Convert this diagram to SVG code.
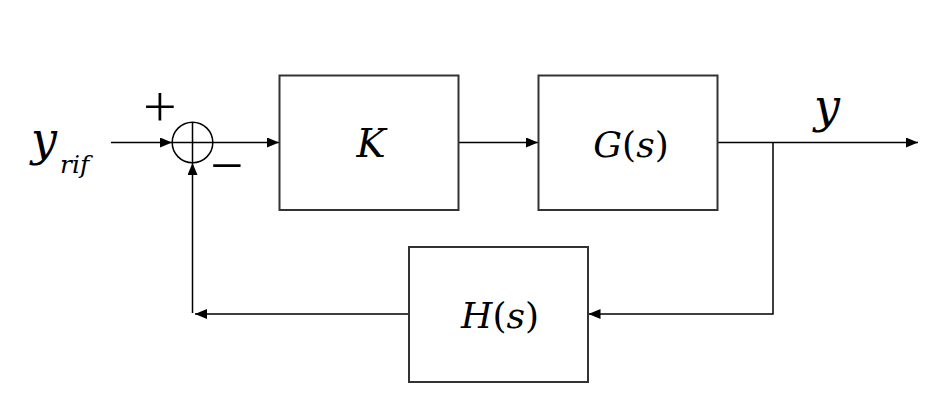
<svg xmlns="http://www.w3.org/2000/svg" width="951" height="420" viewBox="0 0 951 420">
<style>
.box{fill:#fff;stroke:#333;stroke-width:2}
.ln{fill:none;stroke:#000;stroke-width:1.5}
text{font-family:'DejaVu Serif','Liberation Serif',serif;fill:#000}
.i{font-style:italic}
.op{font-family:Inter,Lato,'Open Sans',sans-serif;font-weight:200}
</style>
<defs>
<marker id="ah" markerUnits="userSpaceOnUse" markerWidth="14" markerHeight="12" refX="12" refY="5" orient="auto">
<path d="M0,0 L12,5 L0,10 Z" fill="#000"/>
</marker>
</defs>
<rect width="951" height="420" fill="#fff"/>
<g id="connectors">
<path class="ln" d="M111,142.5 H172" marker-end="url(#ah)"/>
<path class="ln" d="M212.5,142.5 H279" marker-end="url(#ah)"/>
<path class="ln" d="M458,142.5 H538" marker-end="url(#ah)"/>
<path class="ln" d="M717,142.5 H918" marker-end="url(#ah)"/>
<path class="ln" d="M773,142.5 V314 H588.5" marker-end="url(#ah)"/>
<path class="ln" d="M409,314 H195" marker-end="url(#ah)"/>
<path class="ln" d="M192.5,313 V163" marker-end="url(#ah)"/>
</g>
<g id="sum">
<circle cx="192.5" cy="142.5" r="20.3" fill="#fff" stroke="#000" stroke-width="1.5"/>
<path class="ln" d="M172.2,142.5 H212.8 M192.5,122.2 V162.8"/>
<text class="op" x="160" y="125" font-size="64" text-anchor="middle">+</text>
<text class="op" x="227" y="184" font-size="64" text-anchor="middle">−</text>
</g>
<g id="input">
<text class="i" x="31" y="155" font-size="46">y<tspan x="60" y="173" font-size="25">rif</tspan></text>
</g>
<g id="K">
<rect class="box" x="279.5" y="75.5" width="179" height="134.5"/>
<text class="i" x="371" y="157" font-size="39" text-anchor="middle">K</text>
</g>
<g id="G">
<rect class="box" x="538.5" y="75.5" width="179" height="134.5"/>
<text x="631" y="157" font-size="36" text-anchor="middle"><tspan class="i">G</tspan>(<tspan class="i">s</tspan>)</text>
</g>
<g id="H">
<rect class="box" x="409" y="247" width="179" height="135"/>
<text x="500" y="328" font-size="36" text-anchor="middle"><tspan class="i">H</tspan>(<tspan class="i">s</tspan>)</text>
</g>
<g id="output">
<text class="i" x="814" y="122" font-size="46">y</text>
</g>
</svg>
